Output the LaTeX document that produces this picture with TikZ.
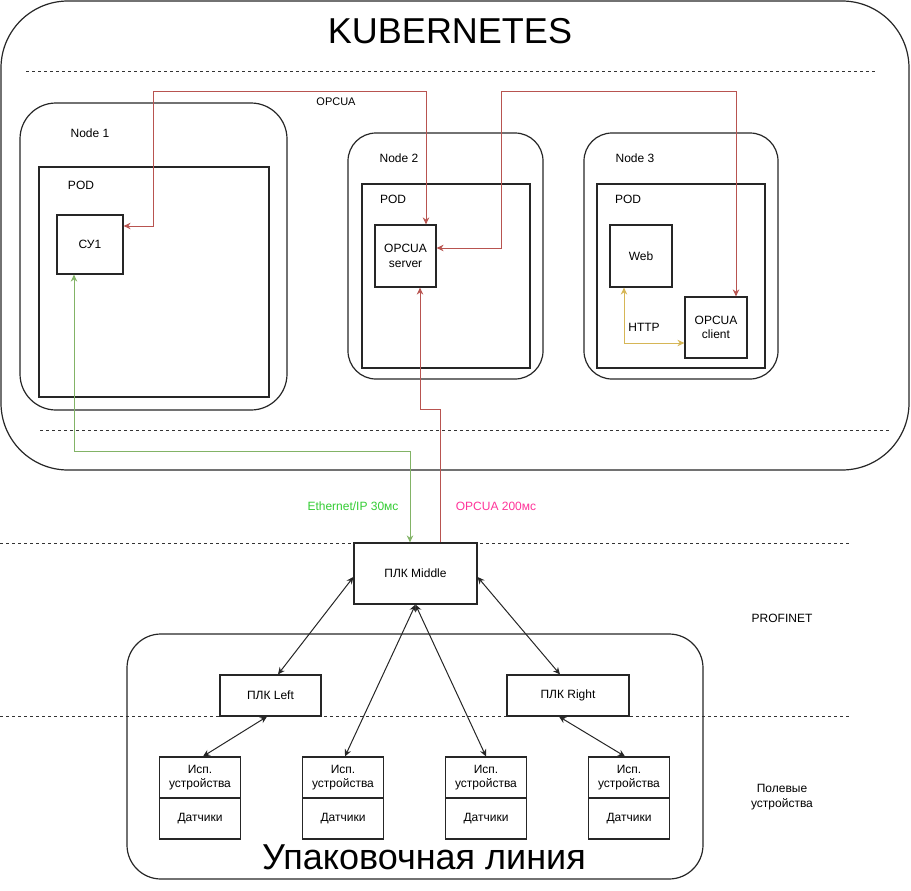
\documentclass[tikz,border=0pt]{standalone}
\usepackage{fontspec}
\setmainfont{Liberation Sans}
\usetikzlibrary{arrows.meta, calc}

\definecolor{opcred}{HTML}{B85450}
\definecolor{ethgreen}{HTML}{82B366}
\definecolor{httpyellow}{HTML}{D6B656}
\definecolor{ethtext}{HTML}{33CC33}
\definecolor{opctext}{HTML}{FF3399}

\begin{document}
\begin{tikzpicture}[x=1pt, y=-1pt,
  >={Stealth[length=7pt,width=6.5pt]},
  txt/.style={font=\fontsize{12}{14.5}\selectfont, align=center, inner sep=0pt},
  box/.style={draw=black!85, line width=1.2pt, fill=white, txt},
  cont/.style={draw=black!85, line width=1.2pt},
  sep/.style={draw=black!80, line width=1pt, dash pattern=on 3pt off 3pt},
  opc/.style={draw=opcred, line width=1pt},
  eth/.style={draw=ethgreen, line width=1pt},
  http/.style={draw=httpyellow, line width=1pt},
  link/.style={draw=black!85, line width=1pt}]
\useasboundingbox (0,0) rectangle (911,891);

% separators
\draw[sep] (26,72) -- (875,72);
\draw[sep] (40,430) -- (891,430);
\draw[sep] (0,543) -- (850,543);
\draw[sep] (0,716) -- (850,716);

% kubernetes
\node[cont, rounded corners=67pt, minimum width=908pt, minimum height=469pt] (k8s) at (455,235.5) {};
\node[font=\fontsize{36}{40}\selectfont, inner sep=0pt] (k8stitle) at (450,31) {KUBERNETES};

\node[cont, rounded corners=36pt, minimum width=267pt, minimum height=307pt] (node1) at (153.5,256.5) {};
\node[cont, minimum width=230pt, minimum height=230pt] (pod1) at (154,282) {};
\node[txt] (node1lbl) at (90,133) {Node 1};
\node[txt] (pod1lbl) at (81,185) {POD};
\node[box, minimum width=66pt, minimum height=59pt] (su1) at (90,244.5) {СУ1};

\node[cont, rounded corners=28pt, minimum width=195pt, minimum height=246pt] (node2) at (445.5,256) {};
\node[cont, minimum width=168pt, minimum height=184pt] (pod2) at (446,276) {};
\node[txt] (node2lbl) at (399,158) {Node 2};
\node[txt] (pod2lbl) at (393,199) {POD};
\node[box, minimum width=61pt, minimum height=62pt] (server) at (405.5,256) {OPCUA\\server};

\node[cont, rounded corners=28pt, minimum width=194pt, minimum height=246pt] (node3) at (681,256) {};
\node[cont, minimum width=168pt, minimum height=184pt] (pod3) at (681,276) {};
\node[txt] (node3lbl) at (635,158) {Node 3};
\node[txt] (pod3lbl) at (628,199) {POD};
\node[box, minimum width=62pt, minimum height=62pt] (web) at (641,256) {Web};
\node[box, minimum width=62pt, minimum height=61pt] (client) at (716,327.5) {OPCUA\\client};

% opcua links
\draw[opc, <->] ([yshift=18.5pt]su1.east) -| (153,92) -| ([xshift=20.5pt]server.north);
\draw[opc, <->] ([yshift=8pt]server.east) -| (501,92) -| ([xshift=20pt]client.north);
\node[txt, font=\fontsize{11}{13}\selectfont] (opclbl) at (336,102) {OPCUA};
\draw[http, <->] ([xshift=-17pt]web.south) |- ([yshift=-15.5pt]client.west);
\node[txt] (httplbl) at (644,327) {HTTP};

% plc
\node[box, minimum width=123pt, minimum height=61pt] (plcmid) at (415.5,573.5) {ПЛК Middle};
\draw[opc, ->] ([xshift=24.5pt]plcmid.north) |- (420,409) -- ([xshift=14.5pt]server.south);
\draw[eth, <->] ([xshift=-16pt]su1.south) |- (410,451) -- ([xshift=-5.5pt]plcmid.north);
\node[txt, text=ethtext] (ethlbl) at (353,506) {Ethernet/IP 30мс};
\node[txt, text=opctext] (opcuatime) at (496,506) {OPCUA 200мс};
\node[txt] (profinet) at (782,618) {PROFINET};
\node[txt] (fieldlbl) at (782,797) {Полевые\\устройства};

% packing line
\node[cont, rounded corners=34pt, minimum width=576pt, minimum height=245pt] (line) at (415,756.5) {};
\node[font=\fontsize{36}{40}\selectfont, inner sep=0pt, anchor=base] (linelbl) at (424,869) {Упаковочная линия};
\node[box, minimum width=101pt, minimum height=41pt] (plcleft) at (270.5,695.5) {ПЛК Left};
\node[box, minimum width=122pt, minimum height=41pt] (plcright) at (568,695.5) {ПЛК Right};
\foreach \i/\x in {1/200,2/343,3/486,4/629} {
  \node[box, minimum width=81pt, minimum height=41pt] (dev\i) at (\x,777.5) {Исп.\\[-1pt]устройства};
  \node[box, minimum width=81pt, minimum height=41pt] (sens\i) at (\x,818.5) {Датчики};
}

\draw[link, <->] ([yshift=-3.5pt]plcmid.west) -- ([xshift=7.5pt]plcleft.north);
\draw[link, <->] ([yshift=-3.5pt]plcmid.east) -- ([xshift=-8pt]plcright.north);
\draw[link, <->] (plcmid.south) -- ([xshift=2pt]dev2.north);
\draw[link, <->] (plcmid.south) -- (dev3.north);
\draw[link, <->] ([xshift=-3.5pt]plcleft.south) -- ([xshift=3pt]dev1.north);
\draw[link, <->] ([xshift=-9pt]plcright.south) -- ([xshift=-4pt]dev4.north);
\end{tikzpicture}
\end{document}
